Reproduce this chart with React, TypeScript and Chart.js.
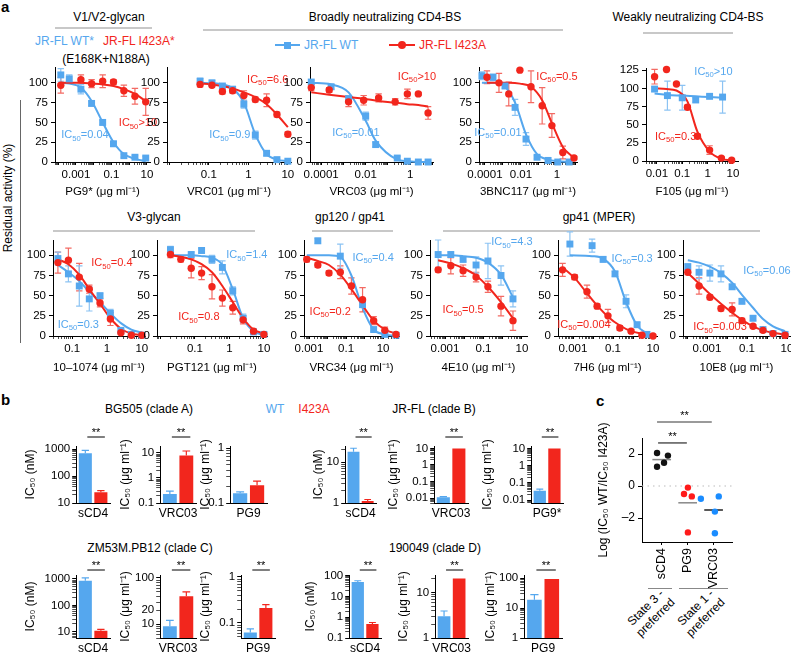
import React, { useEffect, useRef } from 'react';
import { Chart, registerables } from 'chart.js';
Chart.register(...registerables);

const FONT = "'Liberation Sans', Arial, Helvetica, sans-serif";
Chart.defaults.font.family = FONT;
Chart.defaults.font.size = 11.5;
Chart.defaults.color = '#000';

const BLUE = '#55a7ee';
const RED = '#f2261d';
const BLUE_ERR = '#8cc3f3';
const RED_ERR = '#f36a63';
const HEAD_LINE = '#c8c8c8';

// ---------------- panel a data ----------------
const yTicksA = [0, 25, 50, 75, 100];
const yTicksF105 = [0, 25, 50, 75, 100, 125];

const pg9Ticks = [0.001, 0.1, 10];
const pg9X = [0.00014, 0.00042, 0.0019, 0.0076, 0.032, 0.13, 0.5, 2.1, 8.5];
const pg9WT = [110, 105, 92, 74, 50, 23, 8, 6, 5];
const pg9WTErr = [8, 5, 6, 3, 3, 3, 2, 2, 2];
const pg9WTFit = [100, 99, 94, 77, 50, 25, 10, 4, 1];
const pg9Mut = [97, null, 104, 99, 102, 101, 90, 83, 76];
const pg9MutErr = [10, 0, 6, 5, 8, 3, 7, 10, 17];
const pg9MutFit = [100, 100, 100, 99, 98, 96, 92, 86, 77];

const vrc01Ticks = [0.1, 1, 10];
const vrc01X = [0.06, 0.12, 0.22, 0.4, 0.77, 1.5, 2.9, 5.3, 10];
const vrc01WT = [102, 100, 96, 92, 73, 34, 11, 3, 1];
const vrc01WTErr = [4, 3, 2, 2, 5, 5, 3, 1, 1];
const vrc01WTFit = [100, 99.5, 98, 93, 75, 35, 10, 3, 1];
const vrc01Mut = [98, 97, 89, 90, 84, 79, 78, 60, 35];
const vrc01MutErr = [3, 2, 3, 3, 6, 3, 8, 3, 3];
const vrc01MutFit = [99, 98, 96, 93, 88, 82, 73, 60, 44];

const vrc03Ticks = [0.0001, 0.01, 1];
const vrc03WTX = [0.000036, 0.00028, 0.0017, 0.01, 0.028, 0.26, 0.74, 2.3, 6.3];
const vrc03WT = [101, 95, 80, 58, 22, 5, 1, 0, 0];
const vrc03WTErr = [2, 3, 4, 5, 3, 2, 1, 1, 1];
const vrc03WTFit = [100, 98, 88, 52, 27, 3, 1, 0, 0];
const vrc03MutX = [0.000036, 0.00023, 0.0017, 0.0081, 0.038, 0.21, 0.74, 2.3, 6.3];
const vrc03Mut = [94, 91, 76, 78, 81, 76, 86, 86, 62];
const vrc03MutErr = [4, 3, 6, 6, 5, 4, 6, 2, 8];
const vrc03MutFit = [88, 85, 82, 80, 77, 75, 73, 72, 70];

const bncTicks = [0.0001, 0.01, 1];
const bncWTX = [0.000068, 0.00028, 0.0013, 0.0047, 0.019, 0.078, 0.32, 1.1, 4.7];
const bncWT = [109, 107, 96, 69, 29, 6, 2, 0, 0];
const bncWTErr = [5, 4, 3, 10, 8, 2, 1, 1, 1];
const bncWTFit = [100, 100, 95, 75, 35, 10, 3, 1, 0];
const bncMutX = [0.00013, 0.0006, 0.0021, 0.0087, 0.036, 0.15, 0.52, 2.1, 8.8];
const bncMut = [107, 100, 86, 116, 95, 71, 46, 12, 5];
const bncMutErr = [8, 12, 15, 0, 20, 23, 15, 8, 2];
const bncMutFit = [100, 100, 100, 99, 95, 78, 49, 19, 5];

const f105Ticks = [0.01, 0.1, 1, 10];
const f105WTX = [0.0081, 0.026, 0.1, 0.34, 1.2, 3.9];
const f105WT = [99, 90, 87, 84, 89, 88];
const f105WTErr = [3, 20, 17, 3, 2, 22];
const f105WTFit = [93, 91, 90, 89, 88, 87];
const f105MutX = [0.0081, 0.024, 0.059, 0.16, 0.4, 1.2, 3.5, 8.9];
const f105Mut = [116, 126, 106, 74, 34, 15, 4, 1];
const f105MutErr = [10, 0, 0, 3, 3, 6, 2, 1];
const f105MutFit = [100, 99, 97, 82, 40, 13, 3, 1];

const v1074Ticks = [0.1, 1, 10];
const v1074X = [0.039, 0.078, 0.16, 0.31, 0.63, 1.25, 2.5, 5, 10];
const v1074WT = [96, 77, 62, 46, 50, 28, 7, 2, 1];
const v1074WTErr = [8, 10, 25, 15, 3, 5, 2, 1, 1];
const v1074WTFit = [88, 79, 68, 55, 42, 28, 16, 8, 4];
const v1074Mut = [91, 94, 73, 58, 41, 21, 4, 1, 1];
const v1074MutErr = [13, 15, 17, 5, 5, 8, 2, 1, 1];
const v1074MutFit = [95, 89, 76, 58, 40, 22, 9, 3, 1];

const pgtTicks = [0.1, 1, 10];
const pgtX = [0.0195, 0.039, 0.078, 0.156, 0.3125, 0.625, 1.25, 2.5, 5, 10];
const pgtWT = [107, null, 101, 106, 95, 85, 56, 22, 5, 2];
const pgtWTErr = [4, 0, 3, 3, 5, 8, 5, 5, 2, 1];
const pgtWTFit = [100, 100, 100, 99, 97, 88, 58, 22, 6, 1];
const pgtMut = [101, 95, 84, 78, 61, 47, 35, 20, 6, 2];
const pgtMutErr = [4, 3, 12, 8, 15, 10, 8, 5, 3, 2];
const pgtMutFit = [100, 98, 95, 89, 79, 62, 42, 22, 8, 3];

const vrc34Ticks = [0.001, 0.1, 10];
const vrc34X = [0.00076, 0.003, 0.012, 0.049, 0.195, 0.78, 3.1, 12.5, 50];
const vrc34WT = [null, 118, null, 99, null, 39, 8, 2, 1];
const vrc34WTErr = [0, 3, 0, 15, 0, 4, 2, 1, 1];
const vrc34WTFit = [100, 100, 100, 98, 75, 35, 8, 2, 0];
const vrc34Mut = [95, 88, 78, 79, 62, 45, 19, 7, 2];
const vrc34MutErr = [3, 3, 3, 8, 10, 15, 5, 4, 2];
const vrc34MutFit = [97, 93, 88, 76, 58, 38, 19, 8, 3];

const e10Ticks = [0.001, 0.1, 10];
const e10X = [0.00044, 0.002, 0.0087, 0.041, 0.17, 0.81, 3.4];
const e10WT = [101, 101, 95, 88, 93, 75, 46];
const e10WTErr = [18, 3, 3, 10, 22, 12, 10];
const e10WTFit = [100, 100, 99, 97, 91, 76, 48];
const e10Mut = [82, 87, 81, 73, 61, 37, 19];
const e10MutErr = [3, 10, 7, 6, 7, 12, 12];
const e10MutFit = [94, 90, 84, 75, 61, 42, 22];

const h6Ticks = [0.001, 0.1, 10];
const h6WTX = [0.0007, 0.009, 0.032, 0.126, 0.45, 1.6, 5];
const h6WT = [114, 112, 95, 77, 43, 14, 2];
const h6WTErr = [15, 8, 3, 3, 8, 3, 1];
const h6WTFit = [100, 99, 96, 80, 42, 13, 3];
const h6MutX = [0.0003, 0.0012, 0.005, 0.016, 0.056, 0.22, 0.8, 2.8, 10];
const h6Mut = [82, 73, 55, 37, 25, 10, 6, 1, 0];
const h6MutErr = [8, 3, 8, 3, 8, 3, 2, 1, 1];
const h6MutFit = [85, 72, 53, 38, 24, 13, 6, 3, 1];

const e8Ticks = [0.001, 0.1, 10];
const e8X = [0.00011, 0.0004, 0.0014, 0.005, 0.018, 0.056, 0.2, 0.63, 2, 8];
const e8WT = [86, 79, 78, 77, 61, 43, 22, 8, 3, 2];
const e8WTErr = [3, 8, 10, 10, 3, 3, 3, 2, 1, 1];
const e8WTFit = [94, 91, 86, 78, 66, 51, 35, 21, 12, 6];
const e8Mut = [79, 62, 48, 34, 33, 19, 12, 7, 3, 1];
const e8MutErr = [3, 10, 3, 3, 8, 3, 2, 2, 1, 1];
const e8MutFit = [78, 65, 52, 40, 29, 20, 12, 7, 4, 2];

// ---------------- panel b data ----------------
const bg505Cats = ['sCD4', 'VRC03', 'PG9'];
const bg505WT = [700, 0.23, 0.15];
const bg505WTErr = [200, 0.07, 0.01];
const bg505Mut = [25, 8, 0.21];
const bg505MutErr = [4, 4, 0.04];
const bg505Sig = [true, true, false];

const jrflCats = ['sCD4', 'VRC03', 'PG9*'];
const jrflWT = [18, 0.011, 0.035];
const jrflWTErr = [4, 0.001, 0.008];
const jrflMut = [1.12, 10, 10];
const jrflMutErr = [0.1, 0, 0];
const jrflSig = [true, true, true];

const zm53Cats = ['sCD4', 'VRC03', 'PG9'];
const zm53WT = [850, 9, 0.062];
const zm53WTErr = [250, 3, 0.012];
const zm53Mut = [11, 40, 0.21];
const zm53MutErr = [1.5, 10, 0.04];
const zm53Sig = [true, true, true];

const c190Cats = ['sCD4', 'VRC03', 'PG9'];
const c190WT = [50, 3.0, 19];
const c190WTErr = [8, 0.9, 9];
const c190Mut = [0.48, 20, 93];
const c190MutErr = [0.08, 0, 0];
const c190Sig = [true, true, true];

// ---------------- panel c data ----------------
const cCats = ['sCD4', 'PG9', 'VRC03'];
const cSCD4X = [-0.19, 0.23, 0.08, -0.19];
const cSCD4Y = [2.06, 1.9, 1.45, 1.2];
const cPG9X = [1.0, 0.85, 1.15, 1.0];
const cPG9Y = [-0.1, -0.5, -0.65, -2.9];
const cVRC03X = [1.5, 2.19, 2.04, 2.04];
const cVRC03Y = [-0.8, -0.65, -1.6, -2.95];
const cMeans = [1.65, -1.05, -1.5];

// ---------------- helpers ----------------
function logTickValues(lo: number, hi: number) {
  const out: number[] = [];
  for (let k = Math.floor(lo) - 1; k <= Math.ceil(hi); k++) {
    for (let m = 1; m <= 9; m++) {
      const v = m * Math.pow(10, k);
      const l = Math.log10(v);
      if (l >= lo - 1e-9 && l <= hi + 1e-9) out.push(v);
    }
  }
  return out;
}
function labelFor(v: number, majors: number[]) {
  const t = majors.find((m) => Math.abs(Math.log10(m) - Math.log10(v)) < 1e-6);
  return t === undefined ? '' : String(t);
}
function isDecade(v: number) {
  const l = Math.log10(v);
  return Math.abs(l - Math.round(l)) < 1e-6;
}

const errorBars = {
  id: 'errorBars',
  beforeDatasetsDraw(chart: any) { drawErr(chart, false); },
  afterDatasetsDraw(chart: any) { drawErr(chart, true); },
};
function drawErr(chart: any, bars: boolean) {
  const ctx = chart.ctx;
  chart.data.datasets.forEach((ds: any, i: number) => {
    if (!ds.errors || !!ds.isBar !== bars) return;
    const meta = chart.getDatasetMeta(i);
    const ys = chart.scales[meta.yAxisID];
    meta.data.forEach((el: any, j: number) => {
      const e = ds.errors[j];
      if (!e) return;
      const raw = ds.data[j];
      const v = typeof raw === 'number' ? raw : raw.y;
      const top = ys.getPixelForValue(v + e);
      const bot = bars ? el.y : ys.getPixelForValue(Math.max(v - e, ys.min));
      const hw = bars ? el.width * 0.28 : 3.2;
      ctx.save();
      ctx.strokeStyle = ds.errColor;
      ctx.lineWidth = 1.2;
      ctx.beginPath();
      ctx.moveTo(el.x, top); ctx.lineTo(el.x, bot);
      ctx.moveTo(el.x - hw, top); ctx.lineTo(el.x + hw, top);
      if (!bars) { ctx.moveTo(el.x - hw, bot); ctx.lineTo(el.x + hw, bot); }
      ctx.stroke();
      ctx.restore();
    });
  });
}

function drawIC(ctx: any, x: number, y: number, text: string, color: string, size: number) {
  ctx.save();
  ctx.fillStyle = color;
  ctx.textBaseline = 'middle';
  ctx.textAlign = 'left';
  const f1 = `${size}px ${FONT}`;
  const f2 = `${size * 0.7}px ${FONT}`;
  ctx.font = f1;
  const w1 = ctx.measureText('IC').width;
  const w3 = ctx.measureText(text).width;
  ctx.font = f2;
  const w2 = ctx.measureText('50').width;
  let cx = x - (w1 + w2 + w3) / 2;
  ctx.font = f1; ctx.fillText('IC', cx, y); cx += w1;
  ctx.font = f2; ctx.fillText('50', cx, y + size * 0.3); cx += w2;
  ctx.font = f1; ctx.fillText(text, cx, y);
  ctx.restore();
}

type Series = { x: number[]; y: (number | null)[]; e: number[]; fit: number[] };
type Note = { text: string; x: number; y: number; color: string };
type DoseCfg = {
  rect: number[]; xr: number[]; yMax: number; yTicks: number[]; xTicks: number[];
  title: string; wt: Series; mut: Series; notes: Note[]; B: number;
};

function pts(s: Series) {
  const out: any[] = [];
  const errs: number[] = [];
  s.x.forEach((x, i) => {
    const y = s.y[i];
    if (y === null || y === undefined) return;
    out.push({ x, y });
    errs.push(s.e[i]);
  });
  return { out, errs };
}

const doseCharts: DoseCfg[] = [
  { rect: [55, 150, 67, 162], xr: [-4.18, 1.17], yMax: 120, yTicks: yTicksA, xTicks: pg9Ticks, title: 'PG9* (μg ml⁻¹)', B: 37,
    wt: { x: pg9X, y: pg9WT, e: pg9WTErr, fit: pg9WTFit }, mut: { x: pg9X, y: pg9Mut, e: pg9MutErr, fit: pg9MutFit },
    notes: [{ text: '=0.04', x: 0.0032, y: 34, color: BLUE }, { text: '>10', x: 3.1, y: 49, color: RED }] },
  { rect: [167, 291, 67, 162], xr: [-2.06, 1.08], yMax: 120, yTicks: yTicksA, xTicks: vrc01Ticks, title: 'VRC01 (μg ml⁻¹)', B: 37,
    wt: { x: vrc01X, y: vrc01WT, e: vrc01WTErr, fit: vrc01WTFit }, mut: { x: vrc01X, y: vrc01Mut, e: vrc01MutErr, fit: vrc01MutFit },
    notes: [{ text: '=0.9', x: 0.34, y: 34, color: BLUE }, { text: '=6.6', x: 3.1, y: 104, color: RED }] },
  { rect: [310, 433, 67, 162], xr: [-4.5, 1.02], yMax: 120, yTicks: yTicksA, xTicks: vrc03Ticks, title: 'VRC03 (μg ml⁻¹)', B: 37,
    wt: { x: vrc03WTX, y: vrc03WT, e: vrc03WTErr, fit: vrc03WTFit }, mut: { x: vrc03MutX, y: vrc03Mut, e: vrc03MutErr, fit: vrc03MutFit },
    notes: [{ text: '=0.01', x: 0.0036, y: 37, color: BLUE }, { text: '>10', x: 2.0, y: 108, color: RED }] },
  { rect: [479, 577, 67, 162], xr: [-4.33, 1.11], yMax: 120, yTicks: yTicksA, xTicks: bncTicks, title: '3BNC117 (μg ml⁻¹)', B: 37,
    wt: { x: bncWTX, y: bncWT, e: bncWTErr, fit: bncWTFit }, mut: { x: bncMutX, y: bncMut, e: bncMutErr, fit: bncMutFit },
    notes: [{ text: '=0.01', x: 0.00053, y: 37, color: BLUE }, { text: '=0.5', x: 1.0, y: 108, color: RED }] },
  { rect: [646, 738, 68, 161], xr: [-2.43, 1.2], yMax: 128, yTicks: yTicksF105, xTicks: f105Ticks, title: 'F105 (μg ml⁻¹)', B: 38,
    wt: { x: f105WTX, y: f105WT, e: f105WTErr, fit: f105WTFit }, mut: { x: f105MutX, y: f105Mut, e: f105MutErr, fit: f105MutFit },
    notes: [{ text: '>10', x: 1.7, y: 123, color: BLUE }, { text: '=0.3', x: 0.055, y: 33, color: RED }] },
  { rect: [53, 145, 240, 336], xr: [-1.55, 1.09], yMax: 119, yTicks: yTicksA, xTicks: v1074Ticks, title: '10–1074 (μg ml⁻¹)', B: 39,
    wt: { x: v1074X, y: v1074WT, e: v1074WTErr, fit: v1074WTFit }, mut: { x: v1074X, y: v1074Mut, e: v1074MutErr, fit: v1074MutFit },
    notes: [{ text: '=0.4', x: 1.38, y: 90, color: RED }, { text: '=0.3', x: 0.15, y: 14, color: BLUE }] },
  { rect: [157, 267, 240, 336], xr: [-2.1, 1.09], yMax: 119, yTicks: yTicksA, xTicks: pgtTicks, title: 'PGT121 (μg ml⁻¹)', B: 39,
    wt: { x: pgtX, y: pgtWT, e: pgtWTErr, fit: pgtWTFit }, mut: { x: pgtX, y: pgtMut, e: pgtMutErr, fit: pgtMutFit },
    notes: [{ text: '=1.4', x: 3.2, y: 100, color: BLUE }, { text: '=0.8', x: 0.13, y: 23, color: RED }] },
  { rect: [304, 399, 240, 336], xr: [-3.27, 1.86], yMax: 119, yTicks: yTicksA, xTicks: vrc34Ticks, title: 'VRC34 (μg ml⁻¹)', B: 39,
    wt: { x: vrc34X, y: vrc34WT, e: vrc34WTErr, fit: vrc34WTFit }, mut: { x: vrc34X, y: vrc34Mut, e: vrc34MutErr, fit: vrc34MutFit },
    notes: [{ text: '=0.4', x: 2.9, y: 97, color: BLUE }, { text: '=0.2', x: 0.014, y: 30, color: RED }] },
  { rect: [430, 527, 240, 336], xr: [-3.78, 1.26], yMax: 119, yTicks: yTicksA, xTicks: e10Ticks, title: '4E10 (μg ml⁻¹)', B: 39,
    wt: { x: e10X, y: e10WT, e: e10WTErr, fit: e10WTFit }, mut: { x: e10X, y: e10Mut, e: e10MutErr, fit: e10MutFit },
    notes: [{ text: '=4.3', x: 3.0, y: 116, color: BLUE }, { text: '=0.5', x: 0.0087, y: 32, color: RED }] },
  { rect: [558, 657, 240, 336], xr: [-3.75, 1.2], yMax: 119, yTicks: yTicksA, xTicks: h6Ticks, title: '7H6 (μg ml⁻¹)', B: 39,
    wt: { x: h6WTX, y: h6WT, e: h6WTErr, fit: h6WTFit }, mut: { x: h6MutX, y: h6Mut, e: h6MutErr, fit: h6MutFit },
    notes: [{ text: '=0.3', x: 0.9, y: 96, color: BLUE }, { text: '=0.004', x: 0.0035, y: 14, color: RED }] },
  { rect: [683, 790, 240, 336], xr: [-4.2, 1.15], yMax: 119, yTicks: yTicksA, xTicks: e8Ticks, title: '10E8 (μg ml⁻¹)', B: 39,
    wt: { x: e8X, y: e8WT, e: e8WTErr, fit: e8WTFit }, mut: { x: e8X, y: e8Mut, e: e8MutErr, fit: e8MutFit },
    notes: [{ text: '=0.06', x: 1.0, y: 81, color: BLUE }, { text: '=0.003', x: 0.0045, y: 11, color: RED }] },
];

function DoseChart({ cfg }: { cfg: DoseCfg }) {
  const ref = useRef<HTMLCanvasElement>(null);
  const L = 40, R = 16, T = 16, B = cfg.B;
  const [x0, x1, y0, y1] = cfg.rect;
  const W = x1 - x0 + L + R;
  const H = y1 - y0 + T + B;
  useEffect(() => {
    const w = pts(cfg.wt);
    const m = pts(cfg.mut);
    const fitW = cfg.wt.x.map((x, i) => ({ x, y: cfg.wt.fit[i] }));
    const fitM = cfg.mut.x.map((x, i) => ({ x, y: cfg.mut.fit[i] }));
    const tickVals = logTickValues(cfg.xr[0], cfg.xr[1]);
    const notes = {
      id: 'notes',
      afterDraw(chart: any) {
        const xs = chart.scales.x, ys = chart.scales.y;
        cfg.notes.forEach((n) => drawIC(chart.ctx, xs.getPixelForValue(n.x), ys.getPixelForValue(n.y), n.text, n.color, 11));
      },
    };
    const chart = new Chart(ref.current as HTMLCanvasElement, {
      type: 'scatter',
      data: {
        datasets: [
          { type: 'scatter', data: m.out, errors: m.errs, errColor: RED_ERR, pointStyle: 'circle', pointRadius: 3.7, backgroundColor: RED, borderWidth: 0, clip: false } as any,
          { type: 'scatter', data: w.out, errors: w.errs, errColor: BLUE_ERR, pointStyle: 'rect', pointRadius: 4.9, backgroundColor: BLUE, borderWidth: 0, clip: false } as any,
          { type: 'line', data: fitM, borderColor: RED, borderWidth: 2, pointRadius: 0, cubicInterpolationMode: 'monotone', clip: false } as any,
          { type: 'line', data: fitW, borderColor: BLUE, borderWidth: 2, pointRadius: 0, cubicInterpolationMode: 'monotone', clip: false } as any,
        ],
      },
      options: {
        animation: false, responsive: false, events: [],
        layout: { padding: { left: 0, right: R, top: T, bottom: 0 } },
        plugins: { legend: { display: false }, tooltip: { enabled: false } },
        scales: {
          x: {
            type: 'logarithmic', min: Math.pow(10, cfg.xr[0]), max: Math.pow(10, cfg.xr[1]),
            afterBuildTicks: (s: any) => { s.ticks = tickVals.map((v) => ({ value: v })); },
            afterFit: (s: any) => { s.height = B; s.paddingLeft = 0; s.paddingRight = 0; },
            ticks: { autoSkip: false, maxRotation: 0, minRotation: 0, padding: 3, font: { size: 11.5 }, color: '#000',
              callback: (v: any) => labelFor(Number(v), cfg.xTicks) },
            grid: { drawOnChartArea: false, tickLength: 3, color: '#000',
              tickWidth: (c: any) => (c.tick && isDecade(c.tick.value) ? 1 : 0.7) } as any,
            border: { color: '#000', width: 1 },
            title: { display: true, text: cfg.title, padding: 0, font: { size: 11.5 }, color: '#000' },
          } as any,
          y: {
            type: 'linear', min: 0, max: cfg.yMax,
            afterBuildTicks: (s: any) => { s.ticks = cfg.yTicks.map((v) => ({ value: v })); },
            afterFit: (s: any) => { s.width = L; s.paddingTop = 0; s.paddingBottom = 0; },
            ticks: { padding: 3, font: { size: 11.5 }, color: '#000', callback: (v: any) => String(v) },
            grid: { drawOnChartArea: false, tickLength: 4, color: '#000' },
            border: { color: '#000', width: 1 },
          } as any,
        },
      } as any,
      plugins: [errorBars, notes] as any,
    });
    return () => chart.destroy();
  }, []);
  return <canvas ref={ref} width={W} height={H} style={{ position: 'absolute', left: x0 - L, top: y0 - T, width: W, height: H }} />;
}

// ---------------- bar charts ----------------
type BarCfg = {
  rect: number[]; titleX: number; yr: number[]; ticks: number[]; title: string; cat: string;
  wt: number; wtErr: number; mut: number; mutErr: number; sig: boolean; sigOff: number;
};
const NM = 'IC₅₀ (nM)';
const UG = 'IC₅₀ (μg ml⁻¹)';
const R1 = [446, 503];
const R2 = [575, 638];
function bar(i: number, rect: number[], titleX: number, yr: number[], ticks: number[], cats: string[], wt: number[], wtE: number[], mut: number[], mutE: number[], sig: boolean[], sigOff: number): BarCfg {
  return { rect, titleX, yr, ticks, title: i === 0 ? NM : UG, cat: cats[i], wt: wt[i], wtErr: wtE[i], mut: mut[i], mutErr: mutE[i], sig: sig[i], sigOff };
}
const barCharts: BarCfg[] = [
  bar(0, [76, 110, ...R1], 30, [10, 1300], [10, 100, 1000], bg505Cats, bg505WT, bg505WTErr, bg505Mut, bg505MutErr, bg505Sig, 9),
  bar(1, [160, 196, ...R1], 125, [0.1, 19], [0.1, 1, 10], bg505Cats, bg505WT, bg505WTErr, bg505Mut, bg505MutErr, bg505Sig, 9),
  bar(2, [230, 267, ...R1], 205, [0.1, 1.1], [0.1, 1], bg505Cats, bg505WT, bg505WTErr, bg505Mut, bg505MutErr, bg505Sig, 9),
  bar(0, [345, 376, ...R1], 318, [1, 25], [1, 10], jrflCats, jrflWT, jrflWTErr, jrflMut, jrflMutErr, jrflSig, 9),
  bar(1, [434, 468, ...R1], 393, [0.005, 14], [0.01, 0.1, 1, 10], jrflCats, jrflWT, jrflWTErr, jrflMut, jrflMutErr, jrflSig, 9),
  bar(2, [531, 563, ...R1], 487, [0.0068, 14], [0.01, 0.1, 1, 10], jrflCats, jrflWT, jrflWTErr, jrflMut, jrflMutErr, jrflSig, 9),
  bar(0, [76, 110, ...R2], 30, [5.9, 1400], [10, 100, 1000], zm53Cats, zm53WT, zm53WTErr, zm53Mut, zm53MutErr, zm53Sig, 5),
  bar(1, [160, 196, ...R2], 125, [5, 116], [10, 20, 100], zm53Cats, zm53WT, zm53WTErr, zm53Mut, zm53MutErr, zm53Sig, 5),
  bar(2, [241, 275, ...R2], 205, [0.047, 1.1], [0.1, 1], zm53Cats, zm53WT, zm53WTErr, zm53Mut, zm53MutErr, zm53Sig, 5),
  bar(0, [349, 381, ...R2], 310, [0.1, 110], [0.1, 1, 10, 100], c190Cats, c190WT, c190WTErr, c190Mut, c190MutErr, c190Sig, 5),
  bar(1, [435, 468, ...R2], 403, [1, 24], [1, 10], c190Cats, c190WT, c190WTErr, c190Mut, c190MutErr, c190Sig, 5),
  bar(2, [524, 562, ...R2], 490, [1, 127], [1, 10, 100], c190Cats, c190WT, c190WTErr, c190Mut, c190MutErr, c190Sig, 5),
];

function BarChart({ cfg }: { cfg: BarCfg }) {
  const ref = useRef<HTMLCanvasElement>(null);
  const [x0, x1, y0, y1] = cfg.rect;
  const left = cfg.titleX - 7.2;
  const L = x0 - left, R = 8, T = 26, B = 22;
  const W = x1 - x0 + L + R;
  const H = y1 - y0 + T + B;
  useEffect(() => {
    const lo = Math.log10(cfg.yr[0]), hi = Math.log10(cfg.yr[1]);
    const tickVals = logTickValues(lo, hi);
    const sigPlugin = {
      id: 'sig',
      afterDraw(chart: any) {
        if (!cfg.sig) return;
        const a = chart.getDatasetMeta(0).data[0], b = chart.getDatasetMeta(1).data[0];
        const ctx = chart.ctx;
        const y = chart.chartArea.top - cfg.sigOff;
        ctx.save();
        ctx.strokeStyle = '#000'; ctx.lineWidth = 1;
        ctx.beginPath(); ctx.moveTo(a.x + 2, y); ctx.lineTo(b.x + 4, y); ctx.stroke();
        ctx.fillStyle = '#000'; ctx.font = `11px ${FONT}`; ctx.textAlign = 'center'; ctx.textBaseline = 'alphabetic';
        ctx.fillText('**', (a.x + b.x) / 2 + 3, y - 1);
        ctx.restore();
      },
    };
    const chart = new Chart(ref.current as HTMLCanvasElement, {
      type: 'bar',
      data: {
        labels: [cfg.cat],
        datasets: [
          { data: [cfg.wt], backgroundColor: BLUE, borderWidth: 0, errors: [cfg.wtErr], errColor: BLUE, isBar: true, categoryPercentage: 0.92, barPercentage: 0.84 } as any,
          { data: [cfg.mut], backgroundColor: RED, borderWidth: 0, errors: [cfg.mutErr], errColor: RED, isBar: true, categoryPercentage: 0.92, barPercentage: 0.84 } as any,
        ],
      },
      options: {
        animation: false, responsive: false, events: [],
        layout: { padding: { left: 0, right: R, top: T, bottom: 0 } },
        plugins: { legend: { display: false }, tooltip: { enabled: false } },
        scales: {
          x: {
            type: 'category',
            afterFit: (s: any) => { s.height = B; s.paddingLeft = 0; s.paddingRight = 0; },
            ticks: { padding: 3, font: { size: 12 }, color: '#000', maxRotation: 0, minRotation: 0 },
            grid: { display: false, drawTicks: false },
            border: { color: '#000', width: 1 },
          } as any,
          y: {
            type: 'logarithmic', min: cfg.yr[0], max: cfg.yr[1],
            afterBuildTicks: (s: any) => { s.ticks = tickVals.map((v) => ({ value: v })); },
            afterFit: (s: any) => { s.width = L; s.paddingTop = 0; s.paddingBottom = 0; },
            ticks: { autoSkip: false, padding: 2, font: { size: 11.5 }, color: '#000', callback: (v: any) => labelFor(Number(v), cfg.ticks) },
            grid: { drawOnChartArea: false, tickLength: 4, color: '#000',
              tickWidth: (c: any) => (c.tick && isDecade(c.tick.value) ? 1 : 0.7) } as any,
            border: { color: '#000', width: 1 },
            title: { display: true, text: cfg.title, padding: 0, font: { size: 12 }, color: '#000' },
          } as any,
        },
      } as any,
      plugins: [errorBars, sigPlugin] as any,
    });
    return () => chart.destroy();
  }, []);
  return <canvas ref={ref} width={W} height={H} style={{ position: 'absolute', left, top: y0 - T, width: W, height: H }} />;
}

// ---------------- panel c ----------------
function PanelC() {
  const ref = useRef<HTMLCanvasElement>(null);
  const x0 = 642, x1 = 732, y0 = 438, y1 = 542;
  const left = 596, L = x0 - left, R = 10, T = 40, B = 56;
  const W = x1 - x0 + L + R, H = y1 - y0 + T + B;
  useEffect(() => {
    const mk = (xs: number[], ys: number[]) => xs.map((x, i) => ({ x, y: ys[i] }));
    const seg = (i: number, v: number) => [{ x: i - 0.37, y: v }, { x: i + 0.35, y: v }];
    const sig = {
      id: 'csig',
      afterDraw(chart: any) {
        const xs = chart.scales.x, ys = chart.scales.y, ctx = chart.ctx;
        const lines = [
          { a: -0.19, b: 1.92, y: 4.0, c: '#9a9a9a', w: 2 },
          { a: -0.15, b: 0.96, y: 2.69, c: '#000', w: 1 },
        ];
        lines.forEach((l) => {
          const y = ys.getPixelForValue(l.y);
          const xa = xs.getPixelForValue(l.a), xb = xs.getPixelForValue(l.b);
          ctx.save();
          ctx.strokeStyle = l.c; ctx.lineWidth = l.w;
          ctx.beginPath(); ctx.moveTo(xa, y); ctx.lineTo(xb, y); ctx.stroke();
          ctx.fillStyle = '#000'; ctx.font = `11px ${FONT}`; ctx.textAlign = 'center';
          ctx.fillText('**', (xa + xb) / 2, y - 3);
          ctx.restore();
        });
      },
    };
    const chart = new Chart(ref.current as HTMLCanvasElement, {
      type: 'scatter',
      data: {
        datasets: [
          { data: mk(cSCD4X, cSCD4Y), backgroundColor: '#111', pointRadius: 3.2, borderWidth: 0, clip: false } as any,
          { data: mk(cPG9X, cPG9Y), backgroundColor: '#ff1a1a', pointRadius: 3.2, borderWidth: 0, clip: false } as any,
          { data: mk(cVRC03X, cVRC03Y), backgroundColor: '#1a8cff', pointRadius: 3.2, borderWidth: 0, clip: false } as any,
          { type: 'line', data: seg(0, cMeans[0]), borderColor: '#888', borderWidth: 1.5, pointRadius: 0 } as any,
          { type: 'line', data: seg(1, cMeans[1]), borderColor: '#888', borderWidth: 1.5, pointRadius: 0 } as any,
          { type: 'line', data: seg(2, cMeans[2]), borderColor: '#222', borderWidth: 1.5, pointRadius: 0 } as any,
          { type: 'line', data: [{ x: -0.77, y: 0 }, { x: 2.7, y: 0 }], borderColor: '#bbb', borderWidth: 1, borderDash: [1.5, 4], pointRadius: 0 } as any,
        ],
      },
      options: {
        animation: false, responsive: false, events: [],
        layout: { padding: { left: 0, right: R, top: T, bottom: 0 } },
        plugins: { legend: { display: false }, tooltip: { enabled: false } },
        scales: {
          x: {
            type: 'linear', min: -0.77, max: 2.7,
            afterBuildTicks: (s: any) => { s.ticks = [0, 1, 2].map((v) => ({ value: v })); },
            afterFit: (s: any) => { s.height = B; s.paddingLeft = 0; s.paddingRight = 0; },
            ticks: { autoSkip: false, minRotation: 90, maxRotation: 90, padding: 3, font: { size: 12.5 }, color: '#000', callback: (v: any) => cCats[v] },
            grid: { drawOnChartArea: false, tickLength: 3, color: '#000' },
            border: { color: '#000', width: 1 },
          } as any,
          y: {
            type: 'linear', min: -3.5, max: 3,
            afterBuildTicks: (s: any) => { s.ticks = [-2, 0, 2].map((v) => ({ value: v })); },
            afterFit: (s: any) => { s.width = L; s.paddingTop = 0; s.paddingBottom = 0; },
            ticks: { padding: 3, font: { size: 12 }, color: '#000', callback: (v: any) => (v < 0 ? '–' + Math.abs(v) : String(v)) },
            grid: { drawOnChartArea: false, tickLength: 4, color: '#000' },
            border: { color: '#000', width: 1 },
            title: { display: true, text: 'Log (IC₅₀ WT/IC₅₀ I423A)', padding: 0, font: { size: 12 }, color: '#000' },
          } as any,
        },
      } as any,
      plugins: [sig] as any,
    });
    return () => chart.destroy();
  }, []);
  return <canvas ref={ref} width={W} height={H} style={{ position: 'absolute', left, top: y0 - T, width: W, height: H }} />;
}

// ---------------- html text ----------------
function Txt(p: { x: number; y: number; c?: string; s?: number; a?: string; b?: boolean; rot?: number; children: any }) {
  const tx = p.a === 'l' ? '0' : p.a === 'r' ? '-100%' : '-50%';
  return (
    <div style={{ position: 'absolute', left: p.x, top: p.y, transform: `translate(${tx},-50%) rotate(${p.rot || 0}deg)`,
      color: p.c || '#000', fontSize: p.s || 12, fontWeight: p.b ? 'bold' : 'normal', whiteSpace: 'pre', lineHeight: 1.15,
      textAlign: 'center', fontFamily: FONT }}>{p.children}</div>
  );
}
function HLine(p: { x0: number; x1: number; y: number; c?: string; w?: number }) {
  return <div style={{ position: 'absolute', left: p.x0, top: p.y, width: p.x1 - p.x0, height: p.w || 1.5, background: p.c || HEAD_LINE }} />;
}

export default function App() {
  return (
    <div style={{ position: 'fixed', left: 0, top: 0, width: 791, height: 653, overflow: 'hidden', background: '#fff', fontFamily: FONT }}>
      <Txt x={1} y={7} a="l" s={15} b>a</Txt>
      <Txt x={109} y={18}>V1/V2-glycan</Txt>
      <HLine x0={55} x1={152} y={27} />
      <Txt x={385} y={18}>Broadly neutralizing CD4-BS</Txt>
      <HLine x0={203} x1={563} y={29} />
      <Txt x={688} y={18}>Weakly neutralizing CD4-BS</Txt>
      <HLine x0={643} x1={733} y={32} />
      <Txt x={35} y={42} a="l" c={BLUE}>JR-FL WT*</Txt>
      <Txt x={103} y={42} a="l" c={RED}>JR-FL I423A*</Txt>
      <Txt x={106} y={60}>(E168K+N188A)</Txt>
      <div style={{ position: 'absolute', left: 275, top: 45, transform: 'translateY(-50%)', display: 'flex', alignItems: 'center', color: BLUE, fontSize: 12, fontFamily: FONT }}>
        <span style={{ position: 'relative', display: 'inline-block', width: 25, height: 2, background: BLUE, marginRight: 4 }}>
          <span style={{ position: 'absolute', left: 9, top: -2.5, width: 7, height: 7, background: BLUE }} />
        </span>JR-FL WT
      </div>
      <div style={{ position: 'absolute', left: 389, top: 45, transform: 'translateY(-50%)', display: 'flex', alignItems: 'center', color: RED, fontSize: 12, fontFamily: FONT }}>
        <span style={{ position: 'relative', display: 'inline-block', width: 26, height: 2, background: RED, marginRight: 4 }}>
          <span style={{ position: 'absolute', left: 9, top: -3.5, width: 8, height: 8, borderRadius: '50%', background: RED }} />
        </span>JR-FL I423A
      </div>
      <Txt x={154} y={218}>V3-glycan</Txt>
      <HLine x0={53} x1={255} y={230} />
      <Txt x={350} y={218}>gp120 / gp41</Txt>
      <HLine x0={312} x1={393} y={230} />
      <Txt x={599} y={218}>gp41 (MPER)</Txt>
      <HLine x0={443} x1={760} y={230} />
      <Txt x={9} y={198} rot={-90}>Residual activity (%)</Txt>
      <div style={{ position: 'absolute', left: 20, top: 100, width: 1.2, height: 243, background: '#666' }} />

      <Txt x={1} y={400} a="l" s={15} b>b</Txt>
      <Txt x={149} y={410}>BG505 (clade A)</Txt>
      <Txt x={275} y={410} c={BLUE}>WT</Txt>
      <Txt x={314} y={410} c={RED}>I423A</Txt>
      <Txt x={434} y={410}>JR-FL (clade B)</Txt>
      <Txt x={150} y={549}>ZM53M.PB12 (clade C)</Txt>
      <Txt x={435} y={549}>190049 (clade D)</Txt>

      <Txt x={596} y={401} a="l" s={15} b>c</Txt>
      <HLine x0={648} x1={672} y={588} c="#888" w={1.3} />
      <HLine x0={679} x1={728} y={588} c="#888" w={1.3} />
      <Txt x={651} y={613} rot={-45}>{'State 3 -\npreferred'}</Txt>
      <Txt x={701} y={613} rot={-45}>{'State 1 -\npreferred'}</Txt>

      {doseCharts.map((c, i) => <DoseChart key={'d' + i} cfg={c} />)}
      {barCharts.map((c, i) => <BarChart key={'b' + i} cfg={c} />)}
      <PanelC />
    </div>
  );
}
